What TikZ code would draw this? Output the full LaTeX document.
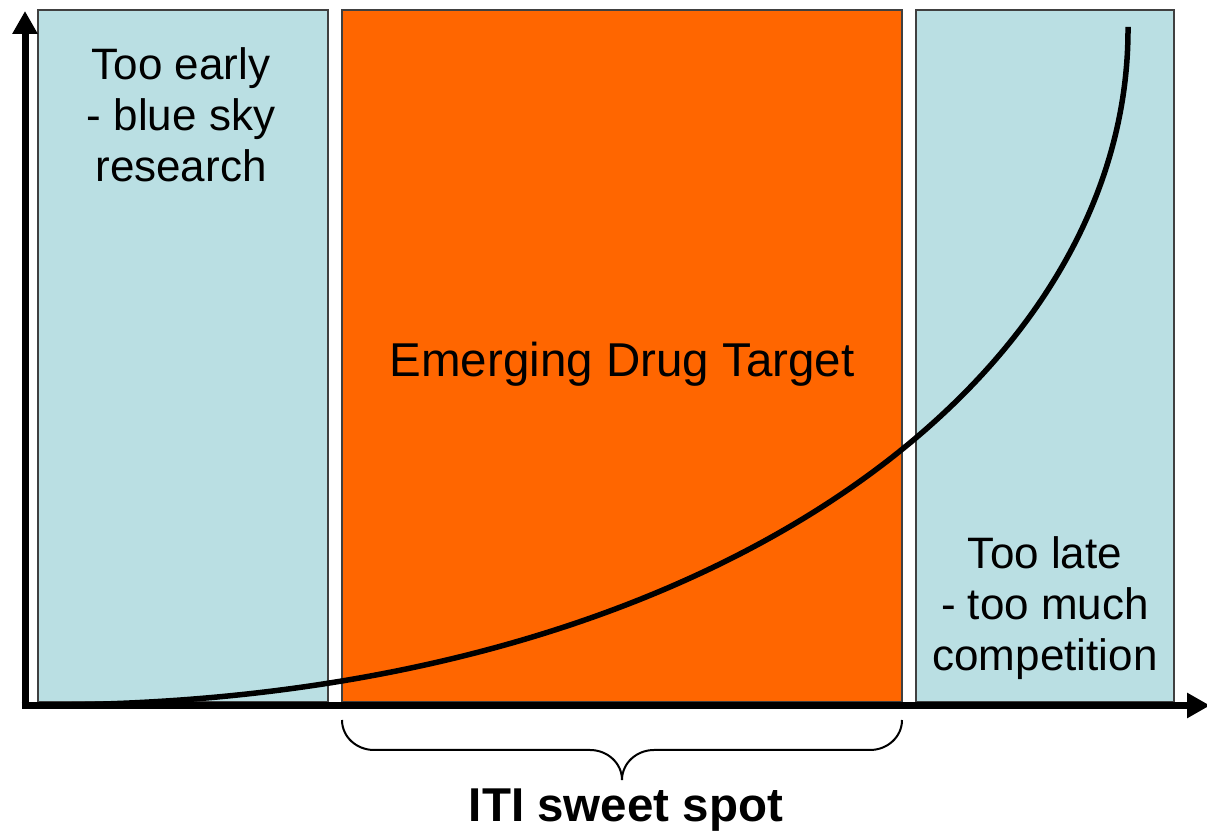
\documentclass[tikz,border=0pt]{standalone}
\usepackage{fontspec}
\setmainfont{Liberation Sans}
\usetikzlibrary{arrows.meta}
\definecolor{skyblue}{HTML}{BADFE3}
\definecolor{hotorange}{HTML}{FF6600}

\begin{document}
\begin{tikzpicture}[
    x=1pt, y=1pt,
    axisline/.style={black, line width=7pt, -{Triangle[length=23pt, width=24pt]}},
    panel/.style={draw=black!75, line width=1.5pt},
    lbl/.style={font=\fontsize{47.5}{51}\selectfont, align=center, inner sep=0pt},
    side/.style={lbl, font=\fontsize{44}{51}\selectfont, anchor=north},
    growth/.style={black, line width=5.5pt},
    bracket/.style={black, line width=2pt}
]
\useasboundingbox (0,0) rectangle (1207,832);

% ---------- panels ----------
\draw[panel, fill=skyblue] (38,130) rectangle (328,822);
\draw[panel, fill=hotorange] (342,130) rectangle (902,822);
\draw[panel, fill=skyblue] (916,130) rectangle (1174,822);

% ---------- axes ----------
\coordinate (origin) at (25,126.5);
\coordinate (xend) at (1210,126.5);
\coordinate (yend) at (25,821);
\draw[axisline] ([xshift=-3.5pt]origin) -- (xend);
\draw[axisline] ([yshift=-3.5pt]origin) -- (yend);

% ---------- growth curve ----------
\draw[growth] (40,127) .. controls (700,127) and (1130,447) .. (1128,805);

% ---------- panel labels ----------
\node[side] (early) at (181,785) {Too early\\- blue sky\\research};
\node[lbl, anchor=base] (target) at (622,455) {Emerging Drug Target};
\node[side] (late) at (1045,296) {Too late\\- too much\\competition};

% ---------- brace under the orange panel ----------
\coordinate (bl) at (342,112);
\coordinate (br) at (902,112);
\coordinate (tip) at (622,52);
\draw[bracket] (bl) to[out=-90, in=180] (374,82) -- (590,82)
  to[out=0, in=90] (tip) to[out=90, in=180] (654,82) -- (870,82)
  to[out=0, in=-90] (br);
\node[lbl, font=\fontsize{47.5}{51}\selectfont\bfseries, anchor=base] (sweetspot) at (626,10) {ITI sweet spot};

\end{tikzpicture}
\end{document}
